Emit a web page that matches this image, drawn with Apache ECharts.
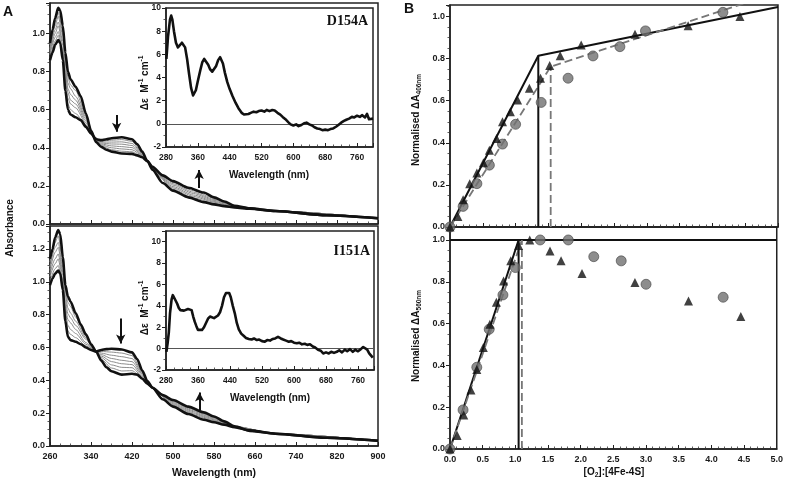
<!DOCTYPE html>
<html><head><meta charset="utf-8">
<script src="https://cdn.jsdelivr.net/npm/echarts@6/dist/echarts.min.js"></script>
<style>html,body{margin:0;padding:0;background:#fff}#c{width:786px;height:486px}</style>
</head><body><div id="c"></div>
<script>
// ---------- Panel A : absorbance spectra ----------
const wl = [260,265,270,276,280,285,290,295,300,310,320,330,340,350,360,370,380,400,420,430,440,450,460,480,500,530,560,580,600,620,650,700,800,900];
// D154A (top)
const d154Final   = [0.95,1.02,1.08,1.135,1.12,1.04,0.90,0.80,0.76,0.72,0.67,0.58,0.49,0.43,0.405,0.39,0.38,0.37,0.368,0.36,0.35,0.33,0.30,0.255,0.225,0.19,0.165,0.14,0.118,0.095,0.082,0.068,0.046,0.03];
const d154Initial = [0.86,0.90,0.94,0.965,0.95,0.86,0.70,0.60,0.575,0.56,0.545,0.51,0.475,0.445,0.44,0.445,0.45,0.455,0.445,0.42,0.38,0.33,0.285,0.215,0.175,0.14,0.115,0.103,0.094,0.087,0.08,0.068,0.046,0.03];
// I151A (bottom)
const i151Final   = [1.14,1.20,1.27,1.315,1.29,1.15,0.98,0.91,0.88,0.81,0.74,0.68,0.62,0.575,0.52,0.48,0.455,0.435,0.44,0.435,0.41,0.38,0.355,0.31,0.28,0.24,0.205,0.18,0.15,0.12,0.092,0.075,0.05,0.032];
const i151Initial = [0.98,1.02,1.05,1.068,1.05,0.95,0.76,0.665,0.645,0.635,0.62,0.60,0.585,0.575,0.585,0.59,0.592,0.588,0.57,0.53,0.46,0.395,0.355,0.285,0.24,0.195,0.16,0.145,0.13,0.115,0.095,0.075,0.05,0.032];
// intermediate (grey) spectra
const gw = [260,270,276,285,290,295,300,310,330,345,360,380,400,420,440,450,470,500,540,580,620,700,900];
const d154Mid1 = [0.87,0.96,0.99,0.89,0.73,0.63,0.60,0.58,0.52,0.46,0.435,0.44,0.443,0.434,0.376,0.33,0.254,0.182,0.137,0.108,0.088,0.068,0.03];
const d154Mid2 = [0.89,0.98,1.01,0.91,0.76,0.66,0.63,0.61,0.53,0.46,0.43,0.43,0.431,0.423,0.371,0.33,0.258,0.189,0.145,0.114,0.089,0.068,0.03];
const d154Mid3 = [0.90,1.00,1.04,0.94,0.79,0.69,0.65,0.63,0.54,0.46,0.425,0.42,0.419,0.412,0.367,0.33,0.262,0.196,0.152,0.119,0.09,0.068,0.03];
const d154Mid4 = [0.91,1.02,1.06,0.96,0.81,0.71,0.68,0.65,0.55,0.46,0.42,0.41,0.406,0.401,0.363,0.33,0.266,0.204,0.16,0.124,0.092,0.068,0.03];
const d154Mid5 = [0.92,1.04,1.09,0.99,0.84,0.74,0.71,0.67,0.56,0.46,0.415,0.40,0.394,0.39,0.359,0.33,0.27,0.211,0.167,0.129,0.093,0.068,0.03];
const d154Mid6 = [0.94,1.06,1.11,1.01,0.87,0.77,0.73,0.70,0.57,0.46,0.41,0.39,0.382,0.379,0.354,0.33,0.274,0.218,0.175,0.135,0.094,0.068,0.03];
const i151Mid1 = [1.00,1.08,1.10,0.98,0.79,0.70,0.68,0.66,0.61,0.582,0.576,0.572,0.566,0.551,0.453,0.393,0.322,0.246,0.189,0.15,0.116,0.075,0.032];
const i151Mid2 = [1.03,1.11,1.14,1.01,0.82,0.735,0.71,0.685,0.62,0.585,0.566,0.553,0.544,0.533,0.446,0.391,0.323,0.251,0.196,0.155,0.116,0.075,0.032];
const i151Mid3 = [1.05,1.14,1.17,1.04,0.85,0.77,0.75,0.71,0.63,0.587,0.557,0.533,0.522,0.514,0.439,0.389,0.325,0.257,0.202,0.16,0.117,0.075,0.032];
const i151Mid4 = [1.07,1.18,1.21,1.06,0.89,0.805,0.78,0.735,0.65,0.59,0.548,0.514,0.501,0.496,0.431,0.386,0.327,0.263,0.209,0.165,0.118,0.075,0.032];
const i151Mid5 = [1.09,1.21,1.24,1.09,0.92,0.84,0.81,0.76,0.66,0.592,0.539,0.494,0.479,0.477,0.424,0.384,0.329,0.269,0.215,0.17,0.119,0.075,0.032];
const i151Mid6 = [1.12,1.24,1.28,1.12,0.95,0.875,0.85,0.785,0.67,0.595,0.529,0.475,0.457,0.459,0.417,0.382,0.33,0.274,0.222,0.175,0.119,0.075,0.032];
// arrows [wavelength, from, to]
const arrowsD154 = [[390,0.572,0.484],[551,0.189,0.283]];
const arrowsI151 = [[398,0.776,0.624],[552,0.217,0.326]];

// ---------- insets : difference spectra ----------
const dWlD154 = [281,285,290,293,296,300,305,310,315,320,324,328,333,338,343,348,351,355,360,366,371,376,381,386,391,396,401,406,411,416,419,423,428,434,440,447,455,462,470,476,481,487,493,500,507,513,520,527,533,540,547,553,560,567,573,580,587,593,600,607,613,620,627,633,640,647,653,660,667,673,680,687,693,700,707,713,720,727,733,740,747,753,760,767,773,780,785,790,795,800];
const dEpsD154 = [5.6,7.5,9.0,9.35,9.0,8.0,7.0,6.6,6.7,7.0,7.1,6.6,5.6,4.3,3.1,2.45,2.4,2.9,3.7,4.6,5.3,5.6,5.5,5.1,4.7,4.5,4.6,5.0,5.5,5.75,5.7,5.2,4.4,3.6,3.0,2.4,1.8,1.35,0.95,0.8,0.75,0.85,0.95,1.05,1.0,1.1,1.15,1.05,1.2,1.1,1.2,1.15,0.95,0.8,0.6,0.4,0.15,-0.05,-0.15,-0.05,-0.2,-0.1,0.05,0.1,-0.05,-0.15,-0.3,-0.4,-0.45,-0.55,-0.5,-0.55,-0.45,-0.4,-0.25,-0.1,0.1,0.25,0.35,0.45,0.6,0.55,0.7,0.6,0.75,0.55,0.85,0.4,0.55,0.45];
const dWlI151 = [281,284,287,290,294,297,300,304,308,312,316,320,325,330,335,340,344,348,352,356,360,365,370,375,380,385,390,395,400,405,410,415,420,425,430,434,438,442,447,452,457,462,468,474,480,487,494,500,507,513,520,527,533,540,547,553,560,567,573,580,587,593,600,607,613,620,627,633,640,647,653,660,667,673,680,687,693,700,707,713,720,727,733,740,747,753,760,767,773,778,783,788,793,797];
const dEpsI151 = [-0.3,0.5,1.5,3.3,4.6,5.0,4.85,4.5,4.2,3.8,3.6,3.5,3.55,3.5,3.7,3.8,3.6,3.0,2.5,2.1,1.75,1.6,1.75,2.0,2.4,2.8,3.0,2.95,2.85,2.8,3.1,3.4,4.0,4.8,5.2,5.35,5.2,4.8,4.0,3.3,2.4,1.8,1.4,1.2,1.0,0.9,0.85,0.95,0.8,0.85,0.7,0.65,0.8,0.75,0.9,0.95,1.1,0.95,0.85,0.75,0.65,0.7,0.55,0.5,0.55,0.4,0.45,0.35,0.4,0.2,0.1,-0.1,-0.2,-0.45,-0.35,-0.45,-0.3,-0.4,-0.3,-0.15,-0.35,-0.1,-0.25,-0.05,-0.3,-0.1,-0.25,-0.05,0.15,0.2,-0.1,-0.45,-0.6,-0.85];

// ---------- Panel B : titrations ----------
const triX406 = [0,0.12,0.2,0.3,0.41,0.51,0.6,0.71,0.8,0.92,1.03,1.21,1.38,1.52,1.68,2.0,2.82,3.63,4.42];
const triY406 = [0,0.05,0.13,0.206,0.257,0.305,0.365,0.42,0.5,0.548,0.603,0.659,0.707,0.767,0.814,0.865,0.916,0.956,1.0];
const cirX406 = [0,0.2,0.41,0.6,0.8,1.0,1.39,1.8,2.18,2.59,2.98,4.16];
const cirY406 = [0,0.098,0.206,0.294,0.394,0.488,0.592,0.707,0.813,0.857,0.932,1.02];
const fitSolid406X = [0,1.346,5.0];  const fitSolid406Y = [0,0.814,1.045];
const fitDash406X  = [0,1.535,5.0];  const fitDash406Y  = [0,0.762,1.115];
const triX560 = [0,0.11,0.21,0.32,0.41,0.51,0.61,0.71,0.82,0.93,1.05,1.22,1.53,1.7,2.02,2.83,3.65,4.45];
const triY560 = [0,0.064,0.163,0.282,0.38,0.485,0.597,0.702,0.804,0.9,0.973,1.0,0.947,0.9,0.84,0.796,0.708,0.634];
const cirX560 = [0,0.2,0.41,0.6,0.81,1.0,1.38,1.81,2.2,2.62,3.0,4.18];
const cirY560 = [0,0.187,0.391,0.573,0.737,0.868,1.0,1.0,0.92,0.9,0.788,0.726];
const fitSolid560X = [0,1.05];  const fitSolid560Y = [0,1.0];
const fitDash560X  = [0,1.1];   const fitDash560Y  = [0,1.0];
const plateau560X  = [0,5.0];   const plateau560Y  = [1.0,1.0];

// ---------- helpers ----------
const zip = (a,b) => a.map((v,i)=>[v,b[i]]);
const FONT = 'Liberation Sans, Arial, sans-serif';
const fmtStep = (step, dec, min) => v => (Math.abs((v-min)/step - Math.round((v-min)/step)) < 1e-3 ? v.toFixed(dec) : '');
function axis(dim, gi, min, max, step, showLabel, split, dec, fs) {
  return {
    type:'value', gridIndex:gi, min, max, interval:step,
    axisLine:{show:true, onZero:false, lineStyle:{color:'#222', width:1.5}},
    axisTick:{show:true, inside: dim==='x', length:4, lineStyle:{color:'#222', width:1}},
    minorTick:{show:true, splitNumber:split, length:2.5, lineStyle:{color:'#333', width:0.8}},
    splitLine:{show:false}, minorSplitLine:{show:false},
    axisLabel:{show:showLabel, margin: dim==='x'?6:5, formatter: fmtStep(step, dec, min),
      fontFamily:FONT, fontWeight:'bold', fontSize:fs||9, color:'#1a1a1a'}
  };
}
const gridBox = {show:true, borderColor:'#222', borderWidth:1.5, containLabel:false};

const grids = [
  Object.assign({left:50, top:3, width:328, height:221}, gridBox),
  Object.assign({left:50, top:226, width:328, height:220}, gridBox),
  Object.assign({left:166, top:8, width:207, height:139, backgroundColor:'#fff'}, gridBox),
  Object.assign({left:166, top:231, width:208, height:139, backgroundColor:'#fff'}, gridBox),
  Object.assign({left:450, top:5, width:328, height:222}, gridBox),
  Object.assign({left:450, top:227, width:328, height:222}, gridBox)
];
const xAxes = [
  axis('x',0,260,900,80,false,4,0),
  axis('x',1,260,900,80,true,4,0),
  axis('x',2,280,800,80,true,4,0,8.5),
  axis('x',3,280,800,80,true,4,0,8.5),
  axis('x',4,0,5,0.5,false,5,1),
  axis('x',5,0,5,0.5,true,5,1)
];
const yAxes = [
  axis('y',0,0,1.16,0.2,true,4,1),
  axis('y',1,0,1.34,0.2,true,4,1),
  axis('y',2,-2,10,2,true,2,0,8.5),
  axis('y',3,-2,11,2,true,2,0,8.5),
  axis('y',4,0,1.055,0.2,true,4,1),
  axis('y',5,0,1.062,0.2,true,4,1)
];

const series = [];
function spec(gi, x, y, thick) {
  series.push({type:'line', xAxisIndex:gi, yAxisIndex:gi, data:zip(x,y), showSymbol:false,
    smooth:0.25, smoothMonotone:'x', silent:true, z: thick?4:3,
    lineStyle:{color: thick?'#111':'#8c8c8c', width: thick?2.6:1}});
  return series[series.length-1];
}
[d154Mid1,d154Mid2,d154Mid3,d154Mid4,d154Mid5,d154Mid6].forEach(a=>spec(0,gw,a,false));
spec(0,wl,d154Initial,true);
const sD = spec(0,wl,d154Final,true);
[i151Mid1,i151Mid2,i151Mid3,i151Mid4,i151Mid5,i151Mid6].forEach(a=>spec(1,gw,a,false));
spec(1,wl,i151Initial,true);
const sI = spec(1,wl,i151Final,true);
function arrows(s, arr) {
  s.markLine = {silent:true, symbol:['none','arrow'], symbolSize:[7,9], label:{show:false},
    lineStyle:{color:'#111', width:2, type:'solid'},
    data: arr.map(a=>[{coord:[a[0],a[1]]},{coord:[a[0],a[2]]}])};
}
arrows(sD, arrowsD154); arrows(sI, arrowsI151);

function diff(gi, x, y) {
  series.push({type:'line', xAxisIndex:gi, yAxisIndex:gi, data:zip(x,y), showSymbol:false, silent:true, z:5,
    lineStyle:{color:'#111', width:2.6, join:'round'},
    markLine:{silent:true, symbol:'none', label:{show:false}, lineStyle:{color:'#555', width:1, type:'solid'}, data:[{yAxis:0}]}});
}
diff(2, dWlD154, dEpsD154);
diff(3, dWlI151, dEpsI151);

function fit(gi, x, y, dashed) {
  series.push({type:'line', xAxisIndex:gi, yAxisIndex:gi, data:zip(x,y), showSymbol:false, silent:true, z:3,
    lineStyle:{color: dashed?'#777':'#111', width: dashed?1.8:2, type: dashed?[8,4]:'solid'}});
}
function vline(gi, x, top, dashed) { fit(gi, [x,x], [0,top], dashed); }
fit(4, fitSolid406X, fitSolid406Y, false);
fit(4, fitDash406X, fitDash406Y, true);
vline(4, fitSolid406X[1], fitSolid406Y[1], false);
vline(4, fitDash406X[1], fitDash406Y[1], true);
fit(5, fitSolid560X, fitSolid560Y, false);
fit(5, fitDash560X, fitDash560Y, true);
fit(5, plateau560X, plateau560Y, false);
vline(5, fitSolid560X[1], fitSolid560Y[1], false);
vline(5, fitDash560X[1], fitDash560Y[1], true);

function pts(gi, x, y, tri) {
  series.push({type:'scatter', xAxisIndex:gi, yAxisIndex:gi, data:zip(x,y), silent:true, z:6,
    symbol: tri?'triangle':'circle', symbolSize: tri?9:10,
    itemStyle: tri?{color:'#111'}:{color:'#707070', borderColor:'#444', borderWidth:0.8}});
}
pts(4, cirX406, cirY406, false); pts(4, triX406, triY406, true);
pts(5, cirX560, cirY560, false); pts(5, triX560, triY560, true);

const bold = (s)=>'bold '+s+'px '+FONT;
const txt = (x,y,text,font,opt) => Object.assign({type:'text', x, y, z:100, style:Object.assign({text, font, fill:'#111', textAlign:'center', textVerticalAlign:'middle'}, (opt&&opt.style)||{})}, opt&&opt.rot?{rotation:Math.PI/2}:{});
const subRich = {a:{fontFamily:FONT, fontWeight:'bold', fontSize:10, lineHeight:14, verticalAlign:'middle'},
                 s:{fontFamily:FONT, fontWeight:'bold', fontSize:6.5, lineHeight:14, verticalAlign:'bottom'},
                 p:{fontFamily:FONT, fontWeight:'bold', fontSize:6.5, lineHeight:14, verticalAlign:'top'}};
const graphic = [
  txt(8,12,'A',bold(14)),
  txt(409,9,'B',bold(14)),
  txt(10,228,'Absorbance',bold(10),{rot:true}),
  txt(214,473,'Wavelength (nm)',bold(10.5)),
  txt(614,472,'{a|[O}{s|2}{a|]:[4Fe-4S]}','',{style:{rich:subRich}}),
  txt(416,120,'{a|Normalised ΔA}{s|406nm}','',{rot:true,style:{rich:subRich}}),
  txt(416,336,'{a|Normalised ΔA}{s|560nm}','',{rot:true,style:{rich:subRich}}),
  txt(269,175,'Wavelength (nm)',bold(10)),
  txt(270,398,'Wavelength (nm)',bold(10)),
  txt(145,83,'{a|Δε  M}{p|-1}{a| cm}{p|-1}','',{rot:true,style:{rich:subRich}}),
  txt(145,308,'{a|Δε  M}{p|-1}{a| cm}{p|-1}','',{rot:true,style:{rich:subRich}}),
  txt(368,21,'D154A','bold 14px Liberation Serif, Times New Roman, serif',{style:{textAlign:'right'}}),
  txt(370,251,'I151A','bold 14px Liberation Serif, Times New Roman, serif',{style:{textAlign:'right'}})
];

const chart = echarts.init(document.getElementById('c'), null, {renderer:'canvas'});
chart.setOption({animation:false, backgroundColor:'#fff', grid:grids, xAxis:xAxes, yAxis:yAxes, series, graphic});
</script></body></html>
